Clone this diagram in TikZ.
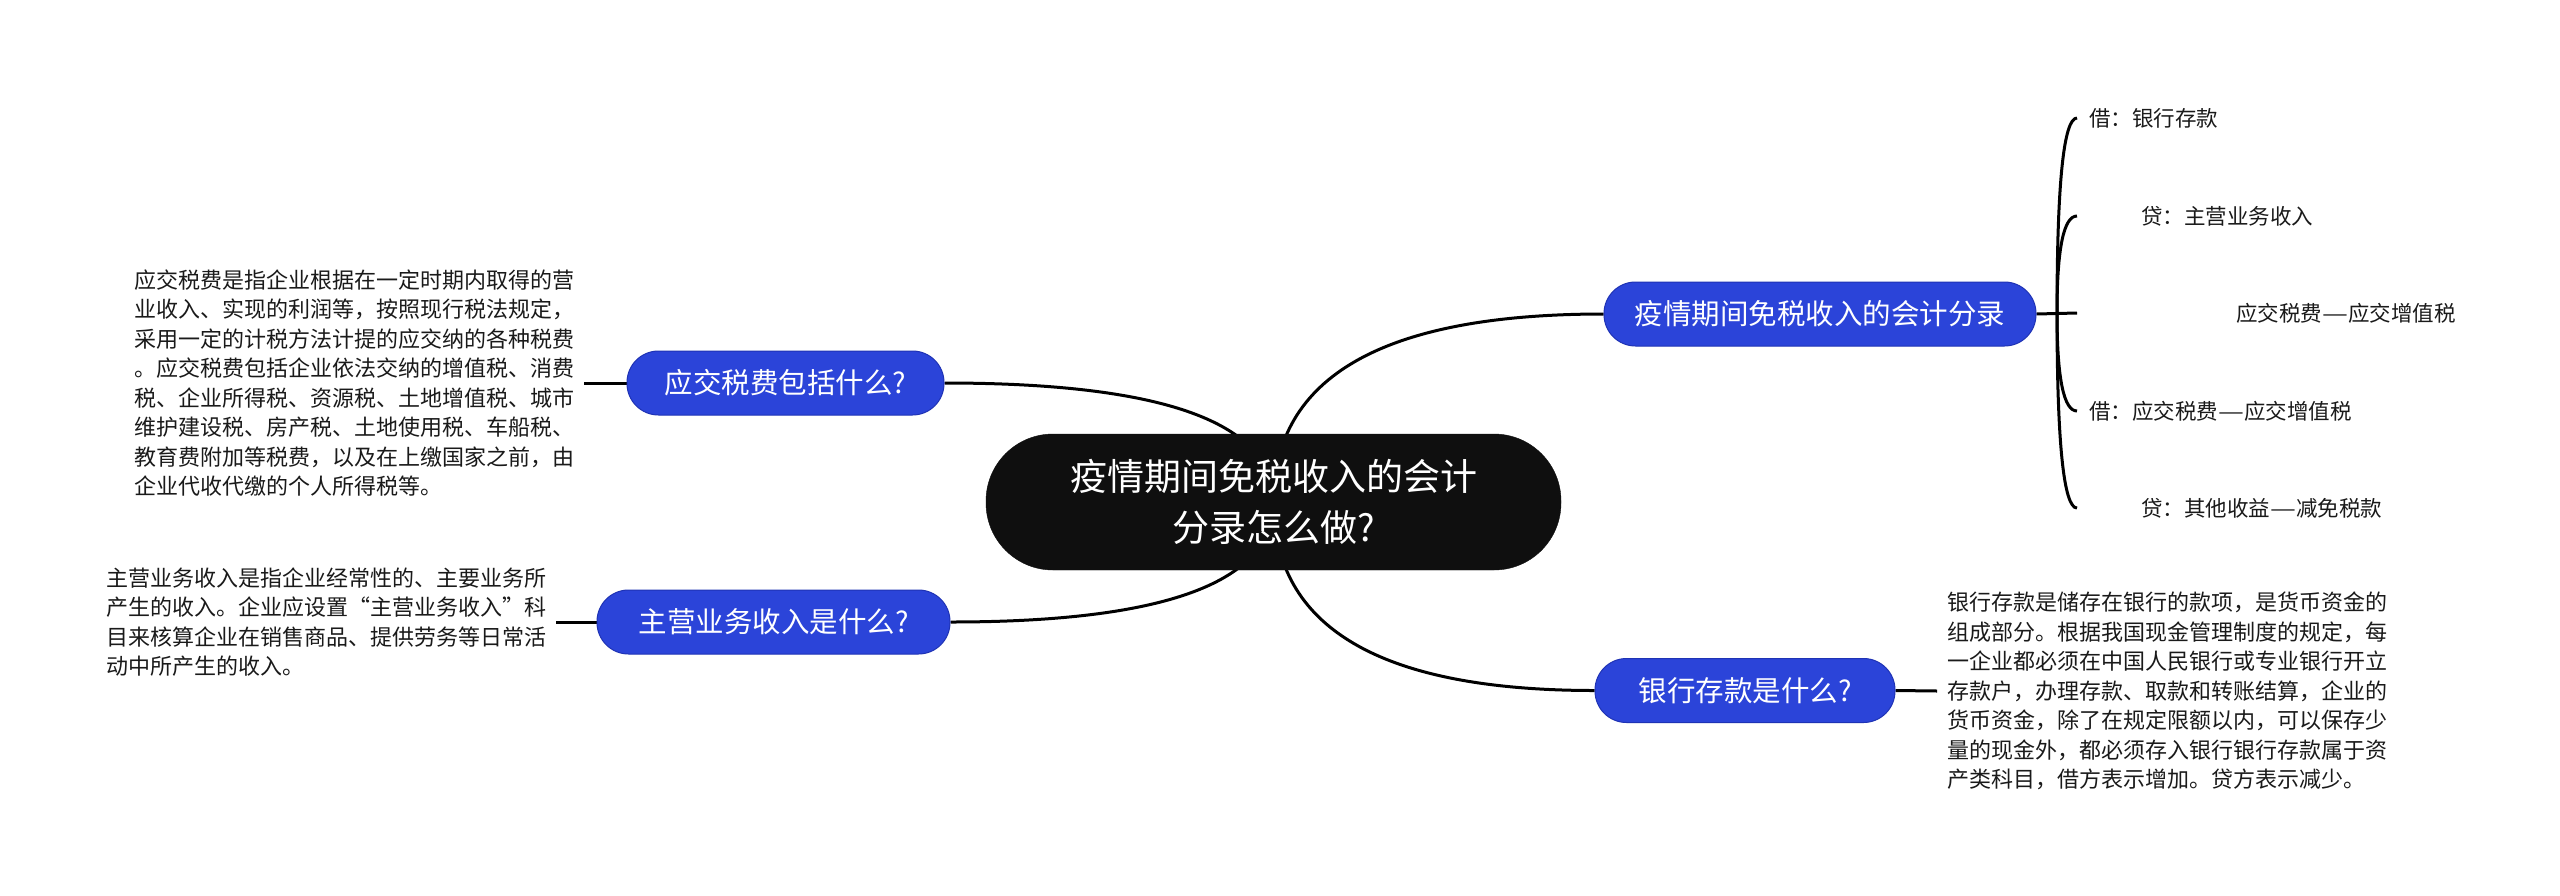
\documentclass[tikz,border=0pt]{standalone}
\usepackage{fontspec}
\setmainfont{Noto Sans CJK SC}
\usetikzlibrary{backgrounds}
\definecolor{nodeblue}{HTML}{2B44D9}
\definecolor{nodeblueedge}{HTML}{1F33B5}
\definecolor{hubblack}{HTML}{0F0F0F}
\definecolor{txt}{HTML}{1A1A1A}
\newcommand\fwdash{\scalebox{1.35}[1]{—}}
\begin{document}
\begin{tikzpicture}[x=1pt,y=-1pt,
  conn/.style={line width=3pt, draw=black},
  hub/.style={fill=hubblack, draw=hubblack, text=white, rounded corners=67pt,
    minimum width=575pt, minimum height=136pt, align=center, inner sep=0,
    font=\fontsize{37}{51}\selectfont},
  topic/.style={fill=nodeblue, draw=nodeblueedge, line width=1pt, text=white,
    rounded corners=31.5pt, minimum height=64pt, inner sep=0,
    font=\fontsize{28.5}{34}\selectfont},
  note/.style={inner sep=0, outer xsep=10pt, align=left, text=txt,
    font=\fontsize{22}{29.5}\selectfont},
  leaf/.style={inner sep=0, anchor=west, text=txt,
    font=\fontsize{21.5}{26}\selectfont}]
\useasboundingbox (0,0) rectangle (2560,895);

% central topic
\node[hub] (c) at (1273.5,502) {疫情期间免税收入的会计\\分录怎么做?};

% main topics
\node[topic, minimum width=432pt] (n1) at (1820,314) {疫情期间免税收入的会计分录};
\node[topic, minimum width=317pt] (n2) at (785.5,383) {应交税费包括什么?};
\node[topic, minimum width=353pt] (n3) at (773.5,622) {主营业务收入是什么?};
\node[topic, minimum width=300pt] (n4) at (1745,690.5) {银行存款是什么?};

% notes
\node[note, anchor=east] (t2) at (584,383) {应交税费是指企业根据在一定时期内取得的营\\业收入、实现的利润等，按照现行税法规定，\\采用一定的计税方法计提的应交纳的各种税费\\。应交税费包括企业依法交纳的增值税、消费\\税、企业所得税、资源税、土地增值税、城市\\维护建设税、房产税、土地使用税、车船税、\\教育费附加等税费，以及在上缴国家之前，由\\企业代收代缴的个人所得税等。};
\node[note, anchor=west] (t3) at (96,622) {主营业务收入是指企业经常性的、主要业务所\\产生的收入。企业应设置“主营业务收入”科\\目来核算企业在销售商品、提供劳务等日常活\\动中所产生的收入。};
\node[note, anchor=west] (t4) at (1937,691) {银行存款是储存在银行的款项，是货币资金的\\组成部分。根据我国现金管理制度的规定，每\\一企业都必须在中国人民银行或专业银行开立\\存款户，办理存款、取款和转账结算，企业的\\货币资金，除了在规定限额以内，可以保存少\\量的现金外，都必须存入银行银行存款属于资\\产类科目，借方表示增加。贷方表示减少。};

% leaves of n1
\node[leaf] (l1) at (2089,118) {借：银行存款};
\node[leaf] (l2) at (2141,216) {贷：主营业务收入};
\node[leaf] (l3) at (2236,313) {应交税费\fwdash 应交增值税};
\node[leaf] (l4) at (2089,411) {借：应交税费\fwdash 应交增值税};
\node[leaf] (l5) at (2141,508) {贷：其他收益\fwdash 减免税款};

\coordinate (j) at (2057,313);
\coordinate (k1) at (2077,118);
\coordinate (k2) at (2077,216);
\coordinate (k3) at (2077,313);
\coordinate (k4) at (2077,411);
\coordinate (k5) at (2077,508);

\begin{scope}[on background layer]
\fill[white] (0,0) rectangle (2560,895);
% hub connectors
\draw[conn] (c.center) .. controls +(0,-125.3) and +(-220.3,0) .. (n1.west);
\draw[conn] (c.center) .. controls +(0,-79.3) and +(219.7,0) .. (n2.east);
\draw[conn] (c.center) .. controls +(0,80) and +(215.7,0) .. (n3.east);
\draw[conn] (c.center) .. controls +(0,125.7) and +(-214.3,0) .. (n4.west);
% note stubs
\draw[conn] (t2.east) -- (n2.west);
\draw[conn] (t3.east) -- (n3.west);
\draw[conn] (n4.east) -- (t4.west);
% bracket of n1
\draw[conn] (n1.east) -- (k3);
\draw[conn] (j) .. controls +(0,-130) and +(-13.3,0) .. (k1);
\draw[conn] (j) .. controls +(0,-64.7) and +(-13.3,0) .. (k2);
\draw[conn] (j) .. controls +(0,65.3) and +(-13.3,0) .. (k4);
\draw[conn] (j) .. controls +(0,130) and +(-13.3,0) .. (k5);
\end{scope}
\end{tikzpicture}
\end{document}
